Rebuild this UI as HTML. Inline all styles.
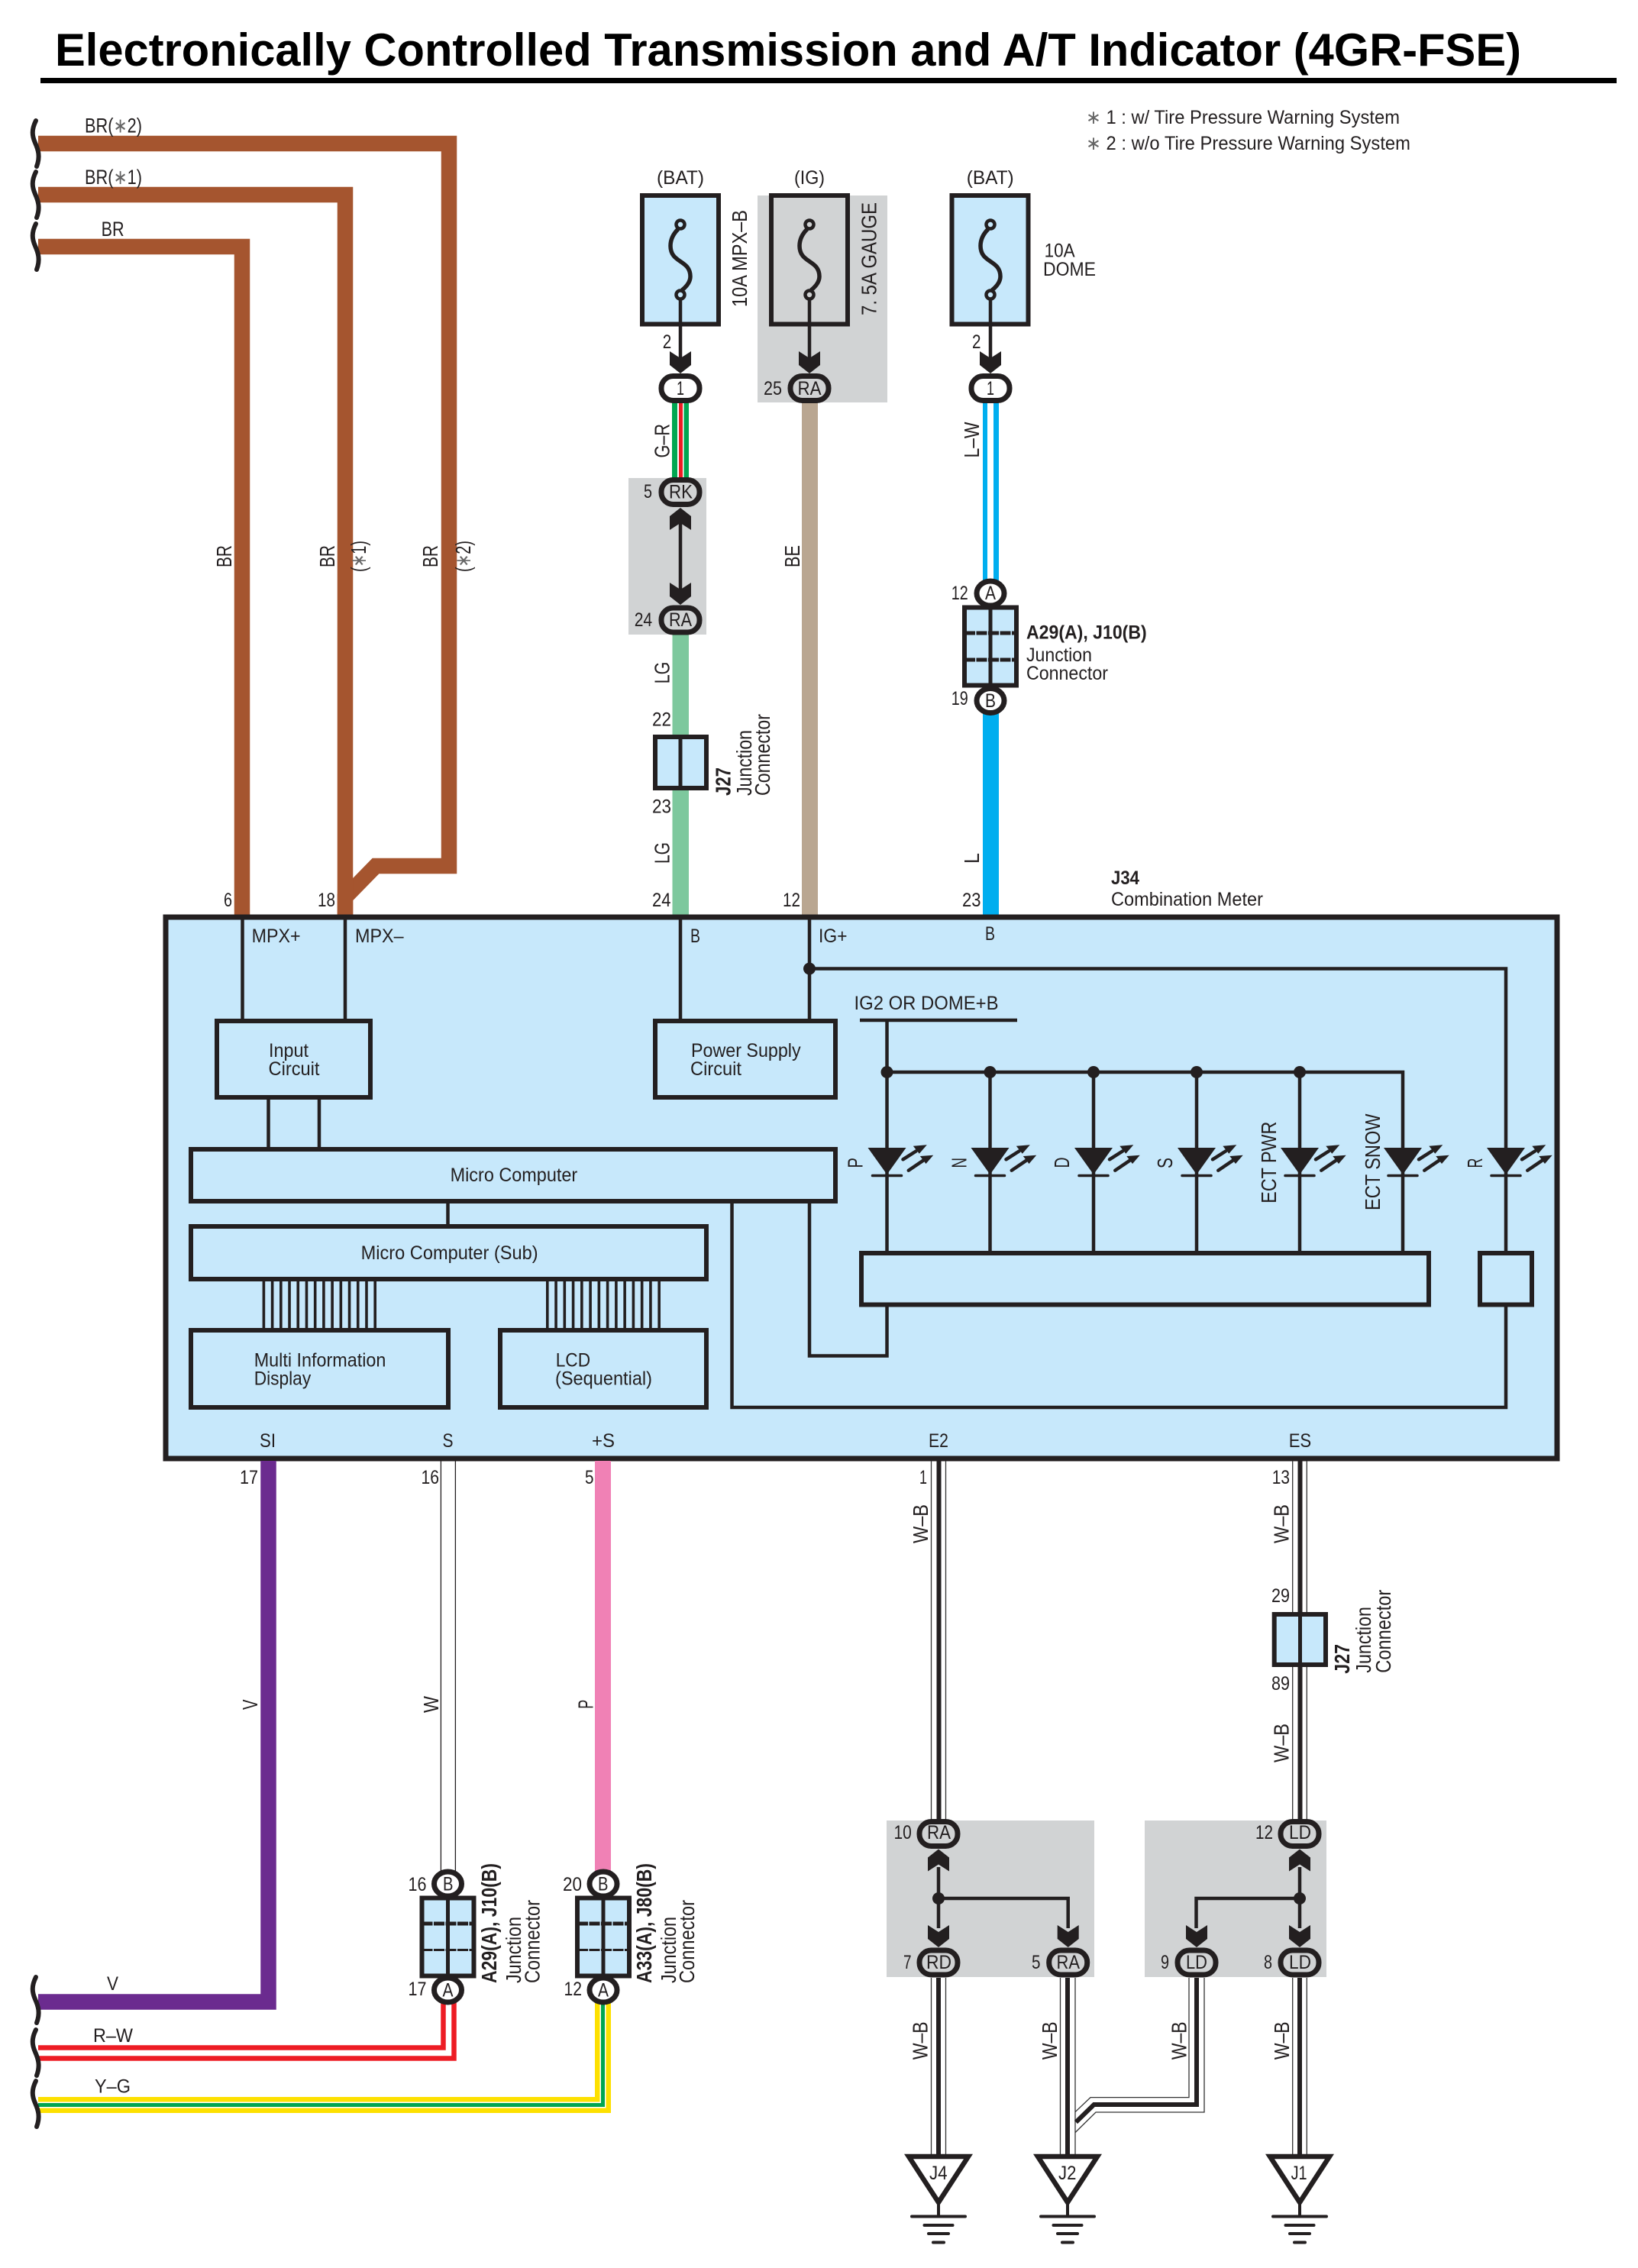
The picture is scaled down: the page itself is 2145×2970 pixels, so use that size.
<!DOCTYPE html>
<html><head><meta charset="utf-8"><title>Electronically Controlled Transmission and A/T Indicator (4GR-FSE)</title>
<style>
html,body{margin:0;padding:0;background:#fff}
svg{display:block}
text{font-family:"Liberation Sans",sans-serif;font-size:25px;fill:#231f20}
.b{font-weight:bold}
.r{font-size:28px}
.o{font-size:27px}
tspan.a{fill:#666}
</style></head><body>
<svg xmlns="http://www.w3.org/2000/svg" width="2145" height="2970" viewBox="0 0 2145 2970">
<defs>
<path id="ad" d="M-14,-29 L0,-20 L14,-29 V-11 L0,0 L-14,-11Z" fill="#231f20"/>
<rect id="pill" x="-25" y="-16" width="50" height="32" rx="15.500" ry="15.500" stroke="#231f20" stroke-width="7"/>
<ellipse id="circ" rx="18" ry="16" fill="#fff" stroke="#231f20" stroke-width="7"/>
<path id="wave" d="M47,158 C41,170 42,178 46,187 C50,196 53,205 48,218" fill="none" stroke="#231f20" stroke-width="6" stroke-linecap="round"/>
<g id="fuse" stroke="#231f20">
<path d="M888,300 C880,308 878,316 878,322 C878,345 904,340 904,362 C904,370 898,376 893,380" fill="none" stroke-width="5.500"/>
<circle cx="891" cy="294" r="5.500" stroke-width="4.500"/>
<circle cx="891" cy="386" r="5.500" stroke-width="4.500"/>
<line x1="891" y1="391" x2="891" y2="480" stroke-width="4.500"/>
</g>
<g id="led">
<path d="M-25,1503 H25 L0,1538Z" fill="#231f20"/>
<line x1="-19" x2="19" y1="1539.500" y2="1539.500" stroke="#231f20" stroke-width="3.500" stroke-linecap="round"/>
<path d="M21,1518.300 L38,1507.500 M28.300,1532.700 L47,1520" stroke="#231f20" stroke-width="4.500" stroke-linecap="round"/>
<path d="M52.300,1499.300 L34.300,1500.700 L42.300,1510.700Z M60.700,1512.700 L43.300,1514 L51,1524Z" fill="#231f20"/>
</g>
<g id="cn6">
<rect x="-34" y="-51" width="68" height="102" fill="#c7e8fb" stroke="#231f20" stroke-width="6"/>
<line x1="0" x2="0" y1="-51" y2="51" stroke="#231f20" stroke-width="5"/>
<line x1="-34" x2="34" y1="-17.500" y2="-17.500" stroke="#231f20" stroke-width="5" stroke-dasharray="14 1.500"/>
</g>
<g id="gnd" stroke="#231f20">
<path d="M-39,2824 H39 L0,2884Z" fill="#fff" stroke-width="6.500" stroke-linejoin="miter"/>
<line x1="0" x2="0" y1="2884" y2="2902" stroke-width="4"/>
<line x1="-35" x2="35" y1="2902.500" y2="2902.500" stroke-width="4" stroke-linecap="round"/>
<line x1="-18.500" x2="18.500" y1="2914" y2="2914" stroke-width="4" stroke-linecap="round"/>
<line x1="-13" x2="13" y1="2925" y2="2925" stroke-width="4" stroke-linecap="round"/>
<line x1="-7" x2="7" y1="2936.500" y2="2936.500" stroke-width="4" stroke-linecap="round"/>
</g>
</defs>

<rect width="2145" height="2970" fill="#fff"/>

<!-- title -->
<text class="b" x="72" y="86" style="font-size:60px;fill:#000" textLength="1920" lengthAdjust="spacingAndGlyphs">Electronically Controlled Transmission and A/T Indicator (4GR-FSE)</text>
<rect x="53" y="102" width="2064" height="7" fill="#000"/>

<!-- legend -->
<text x="1422" y="162" textLength="411" lengthAdjust="spacingAndGlyphs"><tspan class="a">∗</tspan> 1 : w/ Tire Pressure Warning System</text>
<text x="1422" y="196" textLength="425" lengthAdjust="spacingAndGlyphs"><tspan class="a">∗</tspan> 2 : w/o Tire Pressure Warning System</text>

<!-- gray zones -->
<g fill="#d1d3d4">
<rect x="992" y="256" width="170" height="271"/>
<rect x="823" y="626" width="102" height="205"/>
<rect x="1161" y="2384" width="272" height="205"/>
<rect x="1499" y="2384" width="238" height="205"/>
</g>

<!-- brown wires -->
<g fill="none" stroke="#a5552f" stroke-width="20.500">
<path d="M50,188 H588 V1134 H492 L452,1175 V1198"/>
<path d="M50,255 H452 V1198"/>
<path d="M50,323 H317 V1198"/>
</g>
<use href="#wave"/><use href="#wave" y="67"/><use href="#wave" y="135"/>
<text class="o" x="111" y="173.500" textLength="75" lengthAdjust="spacingAndGlyphs">BR(<tspan class="a">∗</tspan>2)</text>
<text class="o" x="111" y="241" textLength="75" lengthAdjust="spacingAndGlyphs">BR(<tspan class="a">∗</tspan>1)</text>
<text class="o" x="132.600" y="309" textLength="30" lengthAdjust="spacingAndGlyphs">BR</text>
<text class="r" transform="translate(303,743) rotate(-90)" textLength="29" lengthAdjust="spacingAndGlyphs">BR</text>
<text class="r" transform="translate(438,743) rotate(-90)" textLength="29" lengthAdjust="spacingAndGlyphs">BR</text>
<text class="r" transform="translate(573,743) rotate(-90)" textLength="29" lengthAdjust="spacingAndGlyphs">BR</text>
<text class="r" transform="translate(479,749) rotate(-90)" textLength="41" lengthAdjust="spacingAndGlyphs">(<tspan class="a">∗</tspan>1)</text>
<text class="r" transform="translate(616,749) rotate(-90)" textLength="41" lengthAdjust="spacingAndGlyphs">(<tspan class="a">∗</tspan>2)</text>

<!-- G-R, LG wire -->
<rect x="880" y="525" width="22" height="103" fill="#00a651"/>
<rect x="887" y="525" width="8.500" height="103" fill="#fff"/>
<rect x="889" y="525" width="5" height="103" fill="#ed1c24"/>
<rect x="880.500" y="830" width="21.500" height="368" fill="#7dc89d"/>
<!-- BE wire -->
<rect x="1050" y="525" width="21" height="673" fill="#b9a691"/>
<!-- L-W wire -->
<rect x="1287" y="525" width="21" height="235" fill="#00aeef"/>
<rect x="1293" y="525" width="8" height="235" fill="#fff"/>
<!-- L wire -->
<rect x="1287" y="930" width="21" height="268" fill="#00aeef"/>

<!-- fuses -->
<rect x="841" y="256" width="100" height="168.500" fill="#c7e8fb" stroke="#231f20" stroke-width="6"/>
<rect x="1010" y="256" width="100" height="168.500" fill="none" stroke="#231f20" stroke-width="6"/>
<rect x="1246.500" y="256" width="100" height="168.500" fill="#c7e8fb" stroke="#231f20" stroke-width="6"/>
<use href="#fuse" fill="#c7e8fb"/>
<use href="#fuse" x="169" fill="#d1d3d4"/>
<use href="#fuse" x="406" fill="#c7e8fb"/>
<use href="#ad" x="891" y="489"/>
<use href="#ad" x="1060" y="489"/>
<use href="#ad" x="1297" y="489"/>
<use href="#pill" x="891" y="508.500" fill="#fff"/>
<use href="#pill" x="1060" y="508.500" fill="#d1d3d4"/>
<use href="#pill" x="1297" y="508.500" fill="#fff"/>

<text x="860" y="241" textLength="62" lengthAdjust="spacingAndGlyphs">(BAT)</text>
<text x="1040" y="241" textLength="40" lengthAdjust="spacingAndGlyphs">(IG)</text>
<text x="1265.700" y="241" textLength="62" lengthAdjust="spacingAndGlyphs">(BAT)</text>
<text class="r" transform="translate(978,402) rotate(-90)" textLength="127" lengthAdjust="spacingAndGlyphs">10A MPX–B</text>
<text class="r" transform="translate(1147.500,413) rotate(-90)" textLength="148" lengthAdjust="spacingAndGlyphs">7. 5A GAUGE</text>
<text x="1367.600" y="336.700" textLength="40" lengthAdjust="spacingAndGlyphs">10A</text>
<text x="1366" y="361" textLength="69" lengthAdjust="spacingAndGlyphs">DOME</text>
<text x="867.700" y="456" textLength="11.500" lengthAdjust="spacingAndGlyphs">2</text>
<text x="1273" y="456" textLength="11.500" lengthAdjust="spacingAndGlyphs">2</text>
<text x="886" y="517" textLength="10" lengthAdjust="spacingAndGlyphs">1</text>
<text x="1292" y="517" textLength="10" lengthAdjust="spacingAndGlyphs">1</text>
<text x="1044.500" y="517" textLength="31" lengthAdjust="spacingAndGlyphs">RA</text>
<text x="1000" y="517" textLength="24" lengthAdjust="spacingAndGlyphs">25</text>
<text class="r" transform="translate(876.500,599.500) rotate(-90)" textLength="44.500" lengthAdjust="spacingAndGlyphs">G–R</text>
<text class="r" transform="translate(1282,599.500) rotate(-90)" textLength="47" lengthAdjust="spacingAndGlyphs">L–W</text>
<text class="r" transform="translate(1047,743) rotate(-90)" textLength="29" lengthAdjust="spacingAndGlyphs">BE</text>
<text class="r" transform="translate(876.500,895.300) rotate(-90)" textLength="28.700" lengthAdjust="spacingAndGlyphs">LG</text>
<text class="r" transform="translate(876.500,1131) rotate(-90)" textLength="28" lengthAdjust="spacingAndGlyphs">LG</text>
<text class="r" transform="translate(1282,1131) rotate(-90)" textLength="14" lengthAdjust="spacingAndGlyphs">L</text>

<!-- RK / RA -->
<line x1="891" x2="891" y1="670" y2="790" stroke="#231f20" stroke-width="4.500"/>
<use href="#ad" transform="translate(891,665) scale(1,-1)"/>
<use href="#ad" x="891" y="792"/>
<use href="#pill" x="891" y="644.500" fill="#d1d3d4"/>
<use href="#pill" x="891" y="812" fill="#d1d3d4"/>
<text x="843" y="652" textLength="11" lengthAdjust="spacingAndGlyphs">5</text>
<text x="876" y="652.500" textLength="31" lengthAdjust="spacingAndGlyphs">RK</text>
<text x="830.700" y="820" textLength="23.500" lengthAdjust="spacingAndGlyphs">24</text>
<text x="876" y="820" textLength="30" lengthAdjust="spacingAndGlyphs">RA</text>

<!-- J27 upper -->
<rect x="858" y="965" width="67" height="67" fill="#c7e8fb" stroke="#231f20" stroke-width="6"/>
<line x1="891" x2="891" y1="965" y2="1032" stroke="#231f20" stroke-width="5"/>
<text x="854" y="950.700" textLength="25" lengthAdjust="spacingAndGlyphs">22</text>
<text x="854" y="1064.700" textLength="25" lengthAdjust="spacingAndGlyphs">23</text>
<text class="r b" transform="translate(956.500,1042) rotate(-90)" textLength="37" lengthAdjust="spacingAndGlyphs">J27</text>
<text class="r" transform="translate(984,1042) rotate(-90)" textLength="86" lengthAdjust="spacingAndGlyphs">Junction</text>
<text class="r" transform="translate(1008,1042) rotate(-90)" textLength="107" lengthAdjust="spacingAndGlyphs">Connector</text>

<!-- A29 upper -->
<use href="#cn6" x="1297" y="846.500"/>
<line x1="1263" x2="1331" y1="864" y2="864" stroke="#231f20" stroke-width="5" stroke-dasharray="14 1.500"/>
<use href="#circ" x="1297" y="777"/>
<use href="#circ" x="1297" y="917.500"/>
<text x="1290" y="785" textLength="14" lengthAdjust="spacingAndGlyphs">A</text>
<text x="1290" y="926" textLength="14" lengthAdjust="spacingAndGlyphs">B</text>
<text x="1245.700" y="785" textLength="22" lengthAdjust="spacingAndGlyphs">12</text>
<text x="1245.700" y="923" textLength="22" lengthAdjust="spacingAndGlyphs">19</text>
<text class="b" x="1344" y="836.700" textLength="157.700" lengthAdjust="spacingAndGlyphs">A29(A), J10(B)</text>
<text x="1344" y="866" textLength="86" lengthAdjust="spacingAndGlyphs">Junction</text>
<text x="1344" y="890" textLength="107" lengthAdjust="spacingAndGlyphs">Connector</text>

<!-- numbers above box -->
<text x="293" y="1187" textLength="11" lengthAdjust="spacingAndGlyphs">6</text>
<text x="416" y="1187" textLength="23" lengthAdjust="spacingAndGlyphs">18</text>
<text x="854" y="1187" textLength="24.500" lengthAdjust="spacingAndGlyphs">24</text>
<text x="1025" y="1187" textLength="23" lengthAdjust="spacingAndGlyphs">12</text>
<text x="1260" y="1187" textLength="24.500" lengthAdjust="spacingAndGlyphs">23</text>
<text class="b" x="1455" y="1158" textLength="37" lengthAdjust="spacingAndGlyphs">J34</text>
<text x="1455" y="1186" textLength="199" lengthAdjust="spacingAndGlyphs">Combination Meter</text>

<!-- main box -->
<rect x="217" y="1201" width="1822" height="709" fill="#c7e8fb" stroke="#231f20" stroke-width="7"/>

<g fill="none" stroke="#231f20" stroke-width="4.500">
<path d="M317.500,1204 V1337"/>
<path d="M452,1204 V1337"/>
<path d="M891,1204 V1337"/>
<path d="M1060,1204 V1337"/>
<path d="M1060,1268.500 H1972 V1503"/>
<path d="M351.500,1437 V1505"/>
<path d="M418,1437 V1505"/>
<path d="M586.500,1573 V1606"/>
<path d="M958.500,1573 V1843 H1972 V1708"/>
<path d="M1060,1573 V1775.500 H1161.500 V1708"/>
<path d="M1126,1336 H1332"/>
<path d="M1161.500,1336 V1641"/>
<path d="M1161.500,1404 H1837 V1641"/>
<path d="M1296.500,1404 V1641"/>
<path d="M1432,1404 V1641"/>
<path d="M1567,1404 V1641"/>
<path d="M1702,1404 V1641"/>
<path d="M1972,1503 V1641"/>
</g>
<g fill="#231f20">
<circle cx="1060" cy="1268.500" r="8"/>
<circle cx="1161.500" cy="1404" r="8"/>
<circle cx="1296.500" cy="1404" r="8"/>
<circle cx="1432" cy="1404" r="8"/>
<circle cx="1567" cy="1404" r="8"/>
<circle cx="1702" cy="1404" r="8"/>
</g>

<g fill="none" stroke="#231f20" stroke-width="6">
<rect x="284" y="1337" width="201" height="100"/>
<rect x="858" y="1337" width="236" height="100"/>
<rect x="250" y="1505" width="844" height="68"/>
<rect x="250" y="1606" width="675" height="69"/>
<rect x="250" y="1742" width="337" height="101"/>
<rect x="655" y="1742" width="270" height="101"/>
<rect x="1128" y="1641" width="743" height="67.500"/>
<rect x="1938" y="1641" width="68" height="67.500"/>
</g>
<line x1="343.600" x2="493" y1="1708.500" y2="1708.500" stroke="#231f20" stroke-width="64" stroke-dasharray="3.600 7.615"/>
<line x1="715" x2="865" y1="1708.500" y2="1708.500" stroke="#231f20" stroke-width="64" stroke-dasharray="3.600 7.66"/>

<!-- LEDs -->
<use href="#led" x="1161.500"/>
<use href="#led" x="1296.500"/>
<use href="#led" x="1432"/>
<use href="#led" x="1567"/>
<use href="#led" x="1702"/>
<use href="#led" x="1837"/>
<use href="#led" x="1972"/>

<!-- box labels -->
<text x="329.600" y="1234" textLength="64" lengthAdjust="spacingAndGlyphs">MPX+</text>
<text x="465" y="1234" textLength="63.600" lengthAdjust="spacingAndGlyphs">MPX–</text>
<text x="904" y="1234" textLength="13" lengthAdjust="spacingAndGlyphs">B</text>
<text x="1072" y="1234" textLength="37.500" lengthAdjust="spacingAndGlyphs">IG+</text>
<text x="1290" y="1231" textLength="13" lengthAdjust="spacingAndGlyphs">B</text>
<text x="352" y="1384" textLength="52" lengthAdjust="spacingAndGlyphs">Input</text>
<text x="351.500" y="1408" textLength="67" lengthAdjust="spacingAndGlyphs">Circuit</text>
<text x="905" y="1384" textLength="143.600" lengthAdjust="spacingAndGlyphs">Power Supply</text>
<text x="904" y="1408" textLength="67" lengthAdjust="spacingAndGlyphs">Circuit</text>
<text x="589.600" y="1547" textLength="166.600" lengthAdjust="spacingAndGlyphs">Micro Computer</text>
<text x="472.600" y="1649" textLength="232" lengthAdjust="spacingAndGlyphs">Micro Computer (Sub)</text>
<text x="332.700" y="1789.500" textLength="172.700" lengthAdjust="spacingAndGlyphs">Multi Information</text>
<text x="332.700" y="1813.400" textLength="74.500" lengthAdjust="spacingAndGlyphs">Display</text>
<text x="727.700" y="1789.500" textLength="45.400" lengthAdjust="spacingAndGlyphs">LCD</text>
<text x="727" y="1813.400" textLength="127" lengthAdjust="spacingAndGlyphs">(Sequential)</text>
<text x="340" y="1895" textLength="21" lengthAdjust="spacingAndGlyphs">SI</text>
<text x="579.500" y="1895" textLength="14" lengthAdjust="spacingAndGlyphs">S</text>
<text x="775" y="1895" textLength="30" lengthAdjust="spacingAndGlyphs">+S</text>
<text x="1216" y="1895" textLength="26" lengthAdjust="spacingAndGlyphs">E2</text>
<text x="1687.700" y="1895" textLength="29.500" lengthAdjust="spacingAndGlyphs">ES</text>
<text x="1118.500" y="1322" textLength="189" lengthAdjust="spacingAndGlyphs">IG2 OR DOME+B</text>
<text class="r" transform="translate(1129.500,1529.500) rotate(-90)" textLength="13.500" lengthAdjust="spacingAndGlyphs">P</text>
<text class="r" transform="translate(1265.500,1529.500) rotate(-90)" textLength="13.500" lengthAdjust="spacingAndGlyphs">N</text>
<text class="r" transform="translate(1400,1529.500) rotate(-90)" textLength="14" lengthAdjust="spacingAndGlyphs">D</text>
<text class="r" transform="translate(1535,1530) rotate(-90)" textLength="14" lengthAdjust="spacingAndGlyphs">S</text>
<text class="r" transform="translate(1671,1575.700) rotate(-90)" textLength="107" lengthAdjust="spacingAndGlyphs">ECT PWR</text>
<text class="r" transform="translate(1807,1585) rotate(-90)" textLength="126.500" lengthAdjust="spacingAndGlyphs">ECT SNOW</text>
<text class="r" transform="translate(1941,1529.500) rotate(-90)" textLength="13" lengthAdjust="spacingAndGlyphs">R</text>

<!-- lower wires -->
<path d="M50,2621.500 H351.500 V1913" fill="none" stroke="#6b2b8f" stroke-width="20.500"/>
<line x1="577.400" x2="577.400" y1="1913" y2="2452" stroke="#231f20" stroke-width="1.300"/>
<line x1="596.400" x2="596.400" y1="1913" y2="2452" stroke="#231f20" stroke-width="1.300"/>
<rect x="779" y="1913" width="21" height="537" fill="#f081b5"/>

<path d="M50,2688.500 H587.500 V2622" fill="none" stroke="#ed1c24" stroke-width="20.500"/>
<path d="M50,2688.500 H587.500 V2622" fill="none" stroke="#fff" stroke-width="7.500"/>
<path d="M50,2756.500 H789.500 V2622" fill="none" stroke="#fde000" stroke-width="21"/>
<path d="M50,2756.500 H789.500 V2622" fill="none" stroke="#fff" stroke-width="8"/>
<path d="M50,2756.500 H789.500 V2622" fill="none" stroke="#00a651" stroke-width="5"/>

<use href="#wave" y="2431"/><use href="#wave" y="2500"/><use href="#wave" y="2567"/>

<text x="140" y="2606" textLength="15" lengthAdjust="spacingAndGlyphs">V</text>
<text x="122" y="2674" textLength="52" lengthAdjust="spacingAndGlyphs">R–W</text>
<text x="124" y="2740.600" textLength="47" lengthAdjust="spacingAndGlyphs">Y–G</text>

<text x="314" y="1943" textLength="24" lengthAdjust="spacingAndGlyphs">17</text>
<text x="551.500" y="1943" textLength="23.500" lengthAdjust="spacingAndGlyphs">16</text>
<text x="766" y="1943" textLength="11.500" lengthAdjust="spacingAndGlyphs">5</text>
<text x="1204" y="1943" textLength="10" lengthAdjust="spacingAndGlyphs">1</text>
<text x="1665.700" y="1943" textLength="23.300" lengthAdjust="spacingAndGlyphs">13</text>
<text class="r" transform="translate(337,2239) rotate(-90)" textLength="13.500" lengthAdjust="spacingAndGlyphs">V</text>
<text class="r" transform="translate(574,2243) rotate(-90)" textLength="22" lengthAdjust="spacingAndGlyphs">W</text>
<text class="r" transform="translate(776.500,2237.700) rotate(-90)" textLength="12" lengthAdjust="spacingAndGlyphs">P</text>

<!-- bottom connectors -->
<use href="#cn6" x="586.500" y="2536.500"/>
<use href="#cn6" x="790" y="2536.500"/>
<line x1="552.500" x2="620.500" y1="2553.500" y2="2553.500" stroke="#231f20" stroke-width="3" stroke-dasharray="14 1.500"/>
<line x1="756" x2="824" y1="2553.500" y2="2553.500" stroke="#231f20" stroke-width="3" stroke-dasharray="14 1.500"/>
<use href="#circ" x="586.500" y="2467"/>
<use href="#circ" x="586.500" y="2606"/>
<use href="#circ" x="790" y="2467"/>
<use href="#circ" x="790" y="2606"/>
<text x="580" y="2475.500" textLength="13.500" lengthAdjust="spacingAndGlyphs">B</text>
<text x="579.500" y="2614.500" textLength="14" lengthAdjust="spacingAndGlyphs">A</text>
<text x="783" y="2475.500" textLength="13.500" lengthAdjust="spacingAndGlyphs">B</text>
<text x="783" y="2614.500" textLength="14" lengthAdjust="spacingAndGlyphs">A</text>
<text x="534.500" y="2476" textLength="24" lengthAdjust="spacingAndGlyphs">16</text>
<text x="534.500" y="2613" textLength="24" lengthAdjust="spacingAndGlyphs">17</text>
<text x="737" y="2476" textLength="25" lengthAdjust="spacingAndGlyphs">20</text>
<text x="738.500" y="2613" textLength="23.500" lengthAdjust="spacingAndGlyphs">12</text>
<text class="r b" transform="translate(650,2597) rotate(-90)" textLength="157" lengthAdjust="spacingAndGlyphs">A29(A), J10(B)</text>
<text class="r" transform="translate(682,2597) rotate(-90)" textLength="87" lengthAdjust="spacingAndGlyphs">Junction</text>
<text class="r" transform="translate(706.500,2597) rotate(-90)" textLength="109" lengthAdjust="spacingAndGlyphs">Connector</text>
<text class="r b" transform="translate(853,2597) rotate(-90)" textLength="157" lengthAdjust="spacingAndGlyphs">A33(A), J80(B)</text>
<text class="r" transform="translate(885,2597) rotate(-90)" textLength="87" lengthAdjust="spacingAndGlyphs">Junction</text>
<text class="r" transform="translate(909,2597) rotate(-90)" textLength="109" lengthAdjust="spacingAndGlyphs">Connector</text>

<!-- W-B wires -->
<g fill="none" stroke="#333" stroke-width="1.300">
<path d="M1219.500,1913 V2385 M1238.500,1913 V2385"/>
<path d="M1692.700,1913 V2385 M1711.300,1913 V2385"/>
<path d="M1219.500,2590 V2821 M1238.500,2590 V2821"/>
<path d="M1388.500,2590 V2821 M1408,2590 V2821"/>
<path d="M1692.700,2590 V2821 M1711.300,2590 V2821"/>
<path d="M1557,2590 V2746.600 H1428 L1408,2765.700"/>
<path d="M1577,2590 V2766 H1435 L1408,2792.600"/>
</g>
<g fill="none" stroke="#231f20" stroke-width="6">
<path d="M1229.500,1913 V2385"/>
<path d="M1702.500,1913 V2385"/>
<path d="M1229,2590 V2821"/>
<path d="M1398,2590 V2821"/>
<path d="M1702,2590 V2821"/>
<path d="M1567,2590 V2756 H1432.600 L1409,2779"/>
</g>

<!-- J27 lower -->
<rect x="1668.700" y="2114" width="67.300" height="66" fill="#c7e8fb" stroke="#231f20" stroke-width="6"/>
<line x1="1702.500" x2="1702.500" y1="2114" y2="2180" stroke="#231f20" stroke-width="5"/>
<text x="1665" y="2098" textLength="24" lengthAdjust="spacingAndGlyphs">29</text>
<text x="1665" y="2213" textLength="24" lengthAdjust="spacingAndGlyphs">89</text>
<text class="r b" transform="translate(1767,2191.700) rotate(-90)" textLength="38.700" lengthAdjust="spacingAndGlyphs">J27</text>
<text class="r" transform="translate(1795,2190.700) rotate(-90)" textLength="86.700" lengthAdjust="spacingAndGlyphs">Junction</text>
<text class="r" transform="translate(1821,2190.700) rotate(-90)" textLength="109" lengthAdjust="spacingAndGlyphs">Connector</text>

<text class="r" transform="translate(1215,2021) rotate(-90)" textLength="51" lengthAdjust="spacingAndGlyphs">W–B</text>
<text class="r" transform="translate(1687.700,2021) rotate(-90)" textLength="51" lengthAdjust="spacingAndGlyphs">W–B</text>
<text class="r" transform="translate(1687.700,2308) rotate(-90)" textLength="51" lengthAdjust="spacingAndGlyphs">W–B</text>
<text class="r" transform="translate(1214.700,2697.300) rotate(-90)" textLength="50" lengthAdjust="spacingAndGlyphs">W–B</text>
<text class="r" transform="translate(1384,2697.300) rotate(-90)" textLength="50" lengthAdjust="spacingAndGlyphs">W–B</text>
<text class="r" transform="translate(1553.600,2697.300) rotate(-90)" textLength="50" lengthAdjust="spacingAndGlyphs">W–B</text>
<text class="r" transform="translate(1688,2697.300) rotate(-90)" textLength="50" lengthAdjust="spacingAndGlyphs">W–B</text>

<!-- junction gray internals -->
<g fill="none" stroke="#231f20" stroke-width="4.500">
<path d="M1229,2445 V2525"/>
<path d="M1229,2486 H1398.700 V2525"/>
<path d="M1702,2445 V2525"/>
<path d="M1702,2486 H1566.500 V2525"/>
</g>
<circle cx="1229" cy="2486" r="8" fill="#231f20"/>
<circle cx="1702" cy="2486" r="8" fill="#231f20"/>
<use href="#ad" transform="translate(1229,2421.500) scale(1,-1)"/>
<use href="#ad" transform="translate(1702,2421.500) scale(1,-1)"/>
<use href="#ad" x="1229" y="2550"/>
<use href="#ad" x="1398.700" y="2550"/>
<use href="#ad" x="1567" y="2550"/>
<use href="#ad" x="1702" y="2550"/>
<use href="#pill" x="1229" y="2401.500" fill="#d1d3d4"/>
<use href="#pill" x="1229" y="2570" fill="#d1d3d4"/>
<use href="#pill" x="1398.700" y="2570" fill="#d1d3d4"/>
<use href="#pill" x="1567" y="2570" fill="#d1d3d4"/>
<use href="#pill" x="1702" y="2570" fill="#d1d3d4"/>
<use href="#pill" x="1702" y="2401.500" fill="#d1d3d4"/>
<text x="1170.500" y="2408" textLength="23.300" lengthAdjust="spacingAndGlyphs">10</text>
<text x="1214" y="2408" textLength="31" lengthAdjust="spacingAndGlyphs">RA</text>
<text x="1183" y="2578" textLength="10.500" lengthAdjust="spacingAndGlyphs">7</text>
<text x="1213" y="2578" textLength="33" lengthAdjust="spacingAndGlyphs">RD</text>
<text x="1351" y="2578" textLength="11.500" lengthAdjust="spacingAndGlyphs">5</text>
<text x="1383.500" y="2578" textLength="30.500" lengthAdjust="spacingAndGlyphs">RA</text>
<text x="1520" y="2578" textLength="11" lengthAdjust="spacingAndGlyphs">9</text>
<text x="1553" y="2578" textLength="28" lengthAdjust="spacingAndGlyphs">LD</text>
<text x="1655" y="2578" textLength="11" lengthAdjust="spacingAndGlyphs">8</text>
<text x="1688" y="2578" textLength="29" lengthAdjust="spacingAndGlyphs">LD</text>
<text x="1644" y="2408" textLength="23" lengthAdjust="spacingAndGlyphs">12</text>
<text x="1688" y="2408" textLength="29" lengthAdjust="spacingAndGlyphs">LD</text>

<!-- grounds -->
<use href="#gnd" x="1229"/>
<use href="#gnd" x="1398"/>
<use href="#gnd" x="1702"/>
<text x="1217" y="2854" textLength="23.600" lengthAdjust="spacingAndGlyphs">J4</text>
<text x="1386" y="2854" textLength="23.400" lengthAdjust="spacingAndGlyphs">J2</text>
<text x="1690.600" y="2854" textLength="21" lengthAdjust="spacingAndGlyphs">J1</text>
</svg>
</body></html>
